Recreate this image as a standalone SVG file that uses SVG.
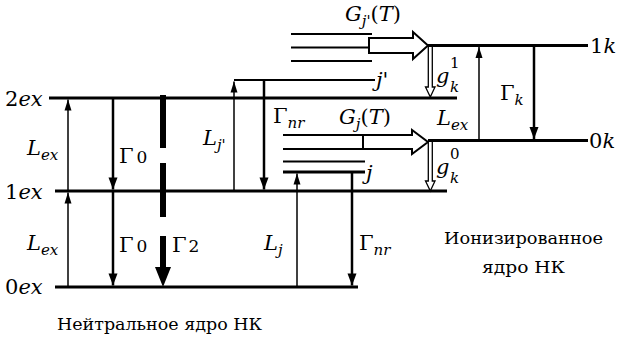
<svg xmlns="http://www.w3.org/2000/svg" width="617" height="340" viewBox="0 0 617 340">
<style>
text{font-size:21px;fill:#000;font-family:"DejaVu Serif","Liberation Serif",serif}
.i{font-style:italic}
.s{font-size:15px}
.lv{stroke:#000;stroke-width:3;fill:none}
.ln{stroke:#000;stroke-width:2;fill:none}
.thin{stroke:#000;stroke-width:1.5;fill:none}
.thick{stroke:#000;stroke-width:2.5;fill:none}
.cap{font-size:17px}
</style>
<defs>
<marker id="ah" markerUnits="userSpaceOnUse" markerWidth="14" markerHeight="10" viewBox="-12 -5 14 10" refX="0" refY="0" orient="auto">
<path d="M0,0 L-11,-3.5 L-11,3.5 Z" fill="#000"/>
</marker>
<marker id="ahb" markerUnits="userSpaceOnUse" markerWidth="16" markerHeight="12" viewBox="-14 -6 16 12" refX="0" refY="0" orient="auto">
<path d="M0,0 L-12,-4.5 L-12,4.5 Z" fill="#000"/>
</marker>
</defs>

<g id="levels">
<line class="lv" x1="49" y1="98" x2="457" y2="98"/>
<line class="lv" x1="55" y1="191" x2="447" y2="191"/>
<line class="lv" x1="55" y1="287" x2="358" y2="287"/>
<line class="lv" x1="428" y1="45.5" x2="588" y2="45.5"/>
<line class="lv" x1="428" y1="140.5" x2="588" y2="140.5"/>
<line class="ln" x1="234" y1="80" x2="375" y2="80" stroke-width="2.5"/>
<line class="ln" x1="291" y1="34" x2="372" y2="34"/>
<line class="ln" x1="291" y1="47.5" x2="372" y2="47.5"/>
<line class="ln" x1="291" y1="61" x2="372" y2="61"/>
<line class="ln" x1="283" y1="161.5" x2="365" y2="161.5"/>
<line class="lv" x1="283" y1="172" x2="365" y2="172"/>
</g>

<g id="connectors">
<line class="thin" x1="68" y1="191" x2="68" y2="99.5" marker-end="url(#ah)"/>
<line class="thin" x1="68" y1="287" x2="68" y2="192.5" marker-end="url(#ah)"/>
<line class="thick" x1="113" y1="98" x2="113" y2="189.5" marker-end="url(#ahb)"/>
<line class="thick" x1="113" y1="191" x2="113" y2="285.5" marker-end="url(#ahb)"/>
<rect x="160" y="95" width="6" height="53" fill="#000"/>
<rect x="160" y="163" width="6" height="54" fill="#000"/>
<rect x="160" y="236" width="6" height="33" fill="#000"/>
<path d="M155,267 L171,267 L163,287 Z" fill="#000"/>
<line class="thin" x1="234" y1="191" x2="234" y2="81.5" marker-end="url(#ah)"/>
<line class="thick" x1="264" y1="80" x2="264" y2="189.5" marker-end="url(#ahb)"/>
<line class="thin" x1="297" y1="287" x2="297" y2="173.5" marker-end="url(#ah)"/>
<line class="thick" x1="352" y1="172" x2="352" y2="285.5" stroke-width="3" marker-end="url(#ahb)"/>
<line class="thin" x1="479" y1="140.5" x2="479" y2="47" marker-end="url(#ah)"/>
<line class="thick" x1="534" y1="45.5" x2="534" y2="139" marker-end="url(#ahb)"/>
<path d="M369,38 H413 V32 L428,45.5 L413,59 V53 H369 Z" fill="#fff" stroke="#000" stroke-width="2"/>
<path d="M283,135 H412 V130 L428,142 L412,154 V149 H283" fill="#fff" stroke="#000" stroke-width="2"/>
<line x1="363" y1="135" x2="363" y2="149" stroke="#000" stroke-width="2"/>
<path d="M428.3,47 V87 H425.5 L430.3,97 L435,87 H432.3 V47" fill="#fff" stroke="#000" stroke-width="1.3"/>
<path d="M428.3,142 V181 H425.5 L430.3,191 L435,181 H432.3 V142" fill="#fff" stroke="#000" stroke-width="1.3"/>
</g>

<g id="labels">
<text x="5" y="106">2<tspan class="i">ex</tspan></text>
<text x="5" y="199">1<tspan class="i">ex</tspan></text>
<text x="5" y="294">0<tspan class="i">ex</tspan></text>
<text x="27" y="155"><tspan class="i">L</tspan><tspan class="i s" dy="5">ex</tspan></text>
<text x="27" y="250"><tspan class="i">L</tspan><tspan class="i s" dy="5">ex</tspan></text>
<text x="119" y="163">Γ<tspan dx="3" font-size="17">0</tspan></text>
<text x="119" y="252">Γ<tspan dx="3" font-size="17">0</tspan></text>
<text x="172" y="252">Γ<tspan dx="2" font-size="17">2</tspan></text>
<text x="203" y="145"><tspan class="i">L</tspan><tspan class="i s" dy="5">j'</tspan></text>
<text x="273" y="123">Γ<tspan class="i s" dy="5">nr</tspan></text>
<text x="339" y="124"><tspan class="i">G</tspan><tspan class="i s" dy="5">j</tspan><tspan dy="-5">(</tspan><tspan class="i">T</tspan>)</text>
<text x="345" y="21"><tspan class="i">G</tspan><tspan class="i s" dy="5">j'</tspan><tspan dy="-5">(</tspan><tspan class="i">T</tspan>)</text>
<text class="i" x="376" y="87">j'</text>
<text class="i" x="366" y="180">j</text>
<text x="264" y="250"><tspan class="i">L</tspan><tspan class="i s" dy="5">j</tspan></text>
<text x="359" y="250">Γ<tspan class="i s" dy="5">nr</tspan></text>
<text class="i" x="436" y="83" font-size="19">g</text>
<text class="s" x="450" y="68" font-size="13">1</text>
<text class="i s" x="450" y="92" font-size="13">k</text>
<text class="i" x="436" y="174" font-size="19">g</text>
<text class="s" x="450" y="159" font-size="13">0</text>
<text class="i s" x="450" y="183" font-size="13">k</text>
<text x="437" y="125"><tspan class="i">L</tspan><tspan class="i s" dy="5">ex</tspan></text>
<text x="500" y="100">Γ<tspan class="i s" dy="5">k</tspan></text>
<text x="590" y="53">1<tspan class="i">k</tspan></text>
<text x="589" y="148">0<tspan class="i">k</tspan></text>
<text class="cap" x="444" y="244" textLength="159" lengthAdjust="spacingAndGlyphs">Ионизированное</text>
<text class="cap" x="482" y="273" textLength="83" lengthAdjust="spacingAndGlyphs">ядро НК</text>
<text class="cap" x="57" y="330" textLength="205" lengthAdjust="spacingAndGlyphs">Нейтральное ядро НК</text>
</g>
</svg>
